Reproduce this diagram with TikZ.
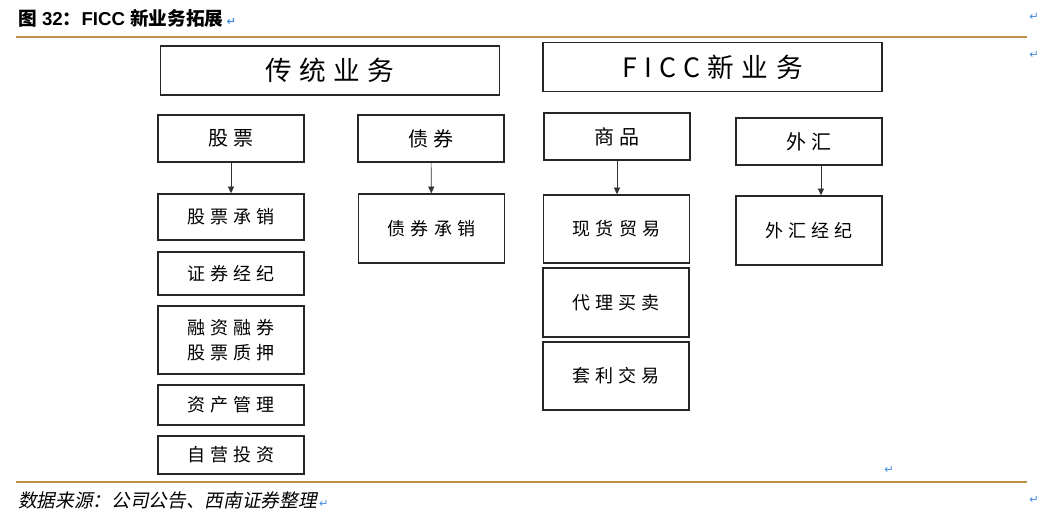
\documentclass[tikz,border=0pt]{standalone}
\usepackage{fontspec}
\setmainfont{Liberation Sans}
\newfontfamily\cjk{Noto Sans CJK SC}
\newfontfamily\cjkbox{Noto Sans CJK SC}[LetterSpace=28]
\newfontfamily\cjkslant{Noto Sans CJK SC}[FakeSlant=0.2]
\newfontfamily\arrowfont{DejaVu Sans}
\usetikzlibrary{arrows.meta}
\definecolor{rulebrown}{RGB}{190,145,70}
\definecolor{retblue}{RGB}{70,140,220}
\newcommand{\retmark}{{\arrowfont\color{retblue}\fontsize{8.5}{8.5}\selectfont ↵}}

\begin{document}
\begin{tikzpicture}[
  x=0.75pt, y=-0.75pt,
  box/.style={draw=black!85, line width=1.1pt, inner sep=0pt, align=center},
  headbox/.style={box, minimum width=254.5pt, minimum height=36.5pt,
    font=\cjkbox\fontsize{20}{22}\selectfont},
  catbox/.style={box, minimum width=109.5pt, minimum height=35.25pt,
    font=\cjkbox\fontsize{15}{18}\selectfont},
  itembox/.style={box, minimum width=109.5pt,
    font=\cjkbox\fontsize{13.5}{19}\selectfont},
  rule/.style={draw=rulebrown, line width=2pt},
  arr/.style={-{Triangle[length=5pt,width=4.5pt]}, line width=0.5pt, black!80},
  ret/.style={inner sep=0pt}
]
\useasboundingbox (0,0) rectangle (1057,520);

% title and rules
\node[anchor=west, inner sep=0pt] (title) at (18,18)
  {\fontsize{14}{16}\selectfont\bfseries{\cjk 图} 32{\cjk ：}FICC {\cjk 新业务拓展}\,\retmark};
\draw[rule] (16,37) -- (1027,37);
\draw[rule] (16,482) -- (1027,482);
\node[anchor=west, inner sep=0pt] (source) at (18,500)
  {{\cjkslant\fontsize{14}{16}\selectfont 数据来源：公司公告、西南证券整理}\,\retmark};

% paragraph marks
\node[ret] (ret1) at (1034,17) {\retmark};
\node[ret] (ret2) at (1034,55) {\retmark};
\node[ret] (ret3) at (889,470) {\retmark};
\node[ret] (ret4) at (1034,500) {\retmark};

% headings
\node[headbox] (trad) at (330,70.5) {传统业务};
\node[headbox] (ficc) at (712.5,67) {FICC新业务};

% categories
\node[catbox] (gp) at (231,138.5) {股票};
\node[catbox] (zq) at (431,138.5) {债券};
\node[catbox] (sp) at (617,136.5) {商品};
\node[catbox] (wh) at (809,141.5) {外汇};

% stock items
\node[itembox, minimum height=34.5pt] (gpcx) at (231,217) {股票承销};
\node[itembox, minimum height=32.25pt] (zqjj) at (231,273.5) {证券经纪};
\node[itembox, minimum height=51pt] (rzrq) at (231,340) {融资融券\\股票质押};
\node[itembox, minimum height=30pt] (zcgl) at (231,405) {资产管理};
\node[itembox, minimum height=28.5pt] (zytz) at (231,455) {自营投资};

% bond, commodity and fx items
\node[itembox, minimum height=51.75pt] (zqcx) at (431.5,228.5) {债券承销};
\node[itembox, minimum height=51pt] (xhmy) at (616.5,229) {现货贸易};
\node[itembox, minimum height=51.75pt] (dlmm) at (616,302.5) {代理买卖};
\node[itembox, minimum height=51pt] (tljy) at (616,376) {套利交易};
\node[itembox, minimum height=51.75pt] (whjj) at (809,230.5) {外汇经纪};

% arrows
\draw[arr] (gp) -- (gpcx);
\draw[arr] (zq) -- (zqcx);
\draw[arr] (sp.south) -- (sp.south |- xhmy.north);
\draw[arr] ([xshift=9pt]wh.south) -- ([xshift=9pt]whjj.north);

\end{tikzpicture}
\end{document}
